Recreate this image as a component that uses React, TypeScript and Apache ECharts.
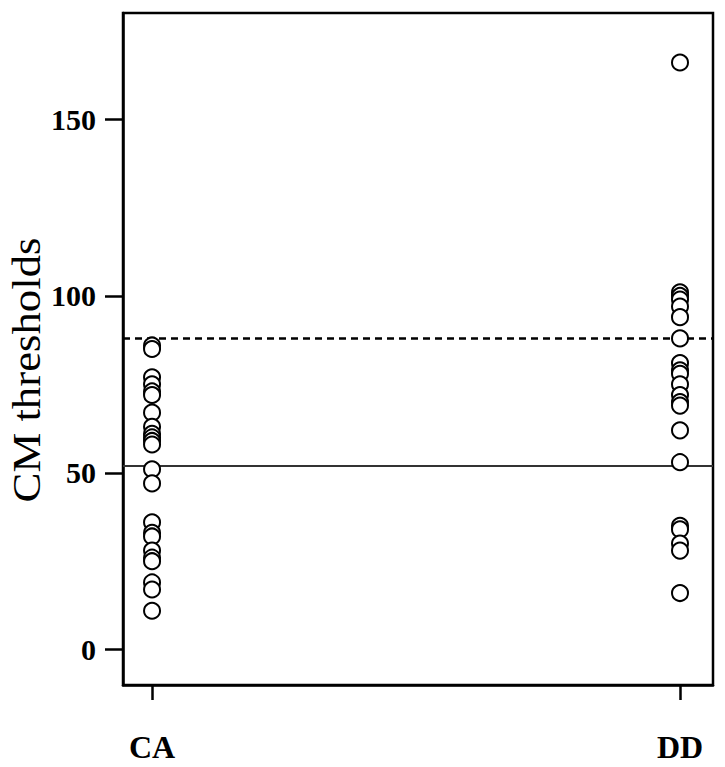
import React, { useEffect, useRef } from "react";
import * as echarts from "echarts";

const categories = ["CA", "DD"];
const caValues = [86, 85, 77, 75, 73, 72, 67, 63, 61, 60, 59, 58, 51, 47, 36, 33, 32, 28, 26, 25, 19, 17, 11];
const ddValues = [166, 101, 100, 99, 97, 94, 88, 81, 79, 78, 75, 72, 70, 69, 62, 53, 35, 34, 30, 28, 16];
const yTicks = [0, 50, 100, 150];
const dashedRef = 88;
const solidRef = 52;
const yName = "CM thresholds";

export default function App() {
  const ref = useRef<HTMLDivElement>(null);
  useEffect(() => {
    if (!ref.current) return;
    const chart = echarts.init(ref.current, null, { renderer: "svg" });
    const toPoints = (vals: number[], idx: number) => vals.map((v) => [idx + 1, v]);
    const allSeries = [caValues, ddValues].map((vals, i) => ({
      type: "scatter",
      name: categories[i],
      data: toPoints(vals, i),
      symbol: "emptyCircle",
      symbolSize: 16,
      itemStyle: { color: "#000", borderColor: "#000", borderWidth: 2.3, opacity: 1 },
      z: 3,
    }));
    (allSeries[0] as any).markLine = {
      silent: true,
      symbol: ["none", "none"],
      label: { show: false },
      data: [
        { yAxis: dashedRef, lineStyle: { type: [7, 5], color: "#000", width: 2.5 } },
        { yAxis: solidRef, lineStyle: { type: "solid", color: "#333", width: 2 } },
      ],
      z: 2,
    };
    chart.setOption({
      animation: false,
      backgroundColor: "#fff",
      grid: {
        left: 123,
        right: 12,
        top: 13,
        bottom: 82,
        show: true,
        borderColor: "#000",
        borderWidth: 2.5,
        backgroundColor: "transparent",
      },
      xAxis: {
        type: "value",
        min: 0.945,
        max: 2.0625,
        splitLine: { show: false },
        axisLine: { show: true, onZero: false, lineStyle: { color: "#000", width: 2.5 } },
        axisTick: { show: true, customValues: [1, 2], length: 15, lineStyle: { color: "#000", width: 2.5 } },
        axisLabel: {
          customValues: [1, 2],
          formatter: (v: number) => categories[Math.round(v) - 1] ?? "",
          margin: 46,
          color: "#000",
          fontFamily: "Liberation Serif",
          fontWeight: "bold",
          fontSize: 32,
        },
      },
      yAxis: {
        type: "value",
        min: -10,
        max: 180,
        splitLine: { show: false },
        axisLine: { show: true, onZero: false, lineStyle: { color: "#000", width: 2.5 } },
        axisTick: { show: true, customValues: yTicks, length: 18, lineStyle: { color: "#000", width: 2.5 } },
        axisLabel: {
          customValues: yTicks,
          margin: 27,
          color: "#000",
          fontFamily: "Liberation Serif",
          fontWeight: "bold",
          fontSize: 30,
        },
      },
      graphic: [
        {
          type: "text",
          x: 26,
          y: 370,
          rotation: Math.PI / 2,
          scaleX: 1.12,
          style: {
            text: yName,
            fill: "#000",
            font: "40px 'Liberation Serif'",
            align: "center",
            verticalAlign: "middle",
          },
        },
      ],
      series: allSeries,
    });
    return () => chart.dispose();
  }, []);
  return (
    <div style={{ position: "fixed", left: 0, top: 0, width: 725, height: 767, background: "#fff" }}>
      <div ref={ref} style={{ width: 725, height: 767 }} />
    </div>
  );
}
